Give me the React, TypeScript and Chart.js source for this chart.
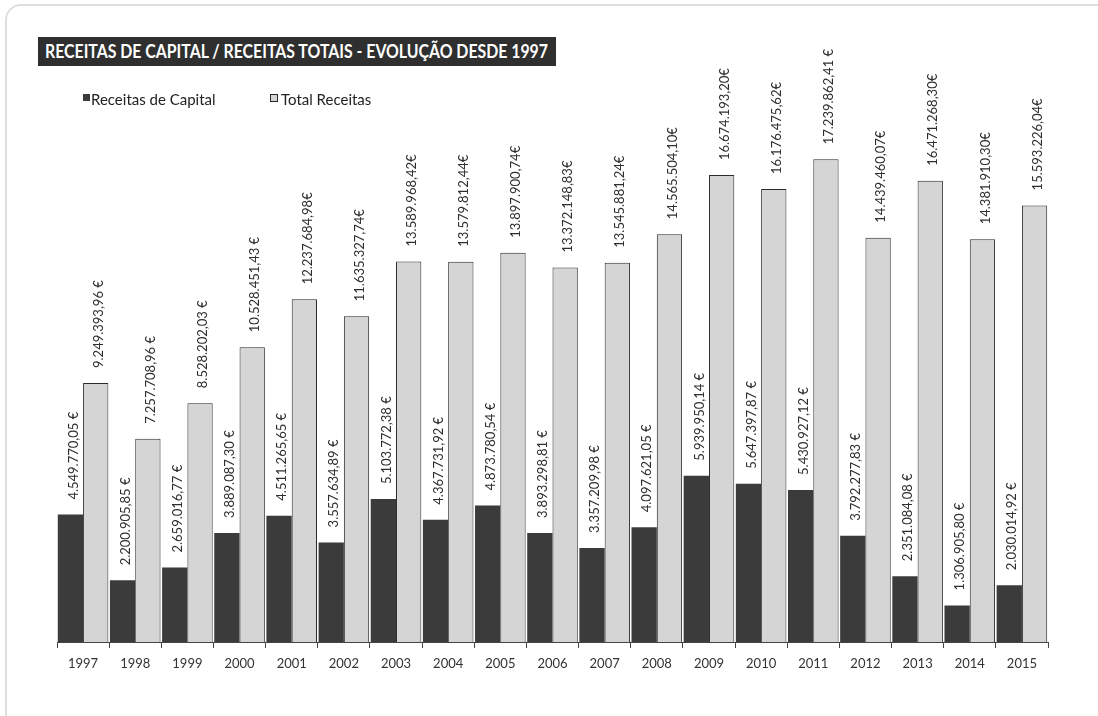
import React, { useEffect, useLayoutEffect, useRef } from "react";
import { Chart, registerables } from "chart.js";

Chart.register(...registerables);

const years = ["1997","1998","1999","2000","2001","2002","2003","2004","2005","2006","2007","2008","2009","2010","2011","2012","2013","2014","2015"];

const capital = [4549770.05, 2200905.85, 2659016.77, 3889087.30, 4511265.65, 3557634.89, 5103772.38, 4367731.92, 4873780.54, 3893298.81, 3357209.98, 4097621.05, 5939950.14, 5647397.87, 5430927.12, 3792277.83, 2351084.08, 1306905.80, 2030014.92];

const total = [9249393.96, 7257708.96, 8528202.03, 10528451.43, 12237684.98, 11635327.74, 13589968.42, 13579812.44, 13897900.74, 13372148.83, 13545881.24, 14565504.10, 16674193.20, 16176475.62, 17239862.41, 14439460.07, 16471268.30, 14381910.30, 15593226.04];

const capitalLabels = ["4.549.770,05 €","2.200.905,85 €","2.659.016,77 €","3.889.087,30 €","4.511.265,65 €","3.557.634,89 €","5.103.772,38 €","4.367.731,92 €","4.873.780,54 €","3.893.298,81 €","3.357.209,98 €","4.097.621,05 €","5.939.950,14 €","5.647.397,87 €","5.430.927,12 €","3.792.277,83 €","2.351.084,08 €","1.306.905,80 €","2.030.014,92 €"];

const totalLabels = ["9.249.393,96 €","7.257.708,96 €","8.528.202,03 €","10.528.451,43 €","12.237.684,98€","11.635.327,74€","13.589.968,42€","13.579.812,44€","13.897.900,74€","13.372.148,83€","13.545.881,24€","14.565.504,10€","16.674.193,20€","16.176.475,62€","17.239.862,41 €","14.439.460,07€","16.471.268,30€","14.381.910,30€","15.593.226,04€"];

const seriesNames = ["Receitas de Capital", "Total Receitas"];
const titleText = "RECEITAS DE CAPITAL / RECEITAS TOTAIS - EVOLUÇÃO DESDE 1997";

const DARK = "#3b3b3b";
const LIGHT = "#d5d5d5";
const EDGE = "#2a2a2a";

const labelPlugin = {
  id: "rotLabels",
  afterDatasetsDraw(chart: any) {
    const ctx = chart.ctx;
    const all = [capitalLabels, totalLabels];
    ctx.save();
    ctx.font = "13px Lato";
    ctx.fillStyle = "#2e2e2e";
    ctx.textAlign = "left";
    ctx.textBaseline = "middle";
    chart.data.datasets.forEach((_: any, di: number) => {
      const meta = chart.getDatasetMeta(di);
      meta.data.forEach((bar: any, i: number) => {
        ctx.save();
        ctx.translate(bar.x + 3, bar.y - 15);
        ctx.rotate(-Math.PI / 2);
        ctx.fillText(all[di][i], 0, 0);
        ctx.restore();
      });
    });
    ctx.restore();
  },
};

export default function App() {
  const canvasRef = useRef<HTMLCanvasElement | null>(null);
  const titleRef = useRef<HTMLSpanElement | null>(null);

  useLayoutEffect(() => {
    const s = titleRef.current;
    if (s) {
      s.style.transform = "none";
      const w = s.getBoundingClientRect().width;
      if (w > 0) s.style.transform = `scaleX(${503 / w})`;
    }
  }, []);

  useEffect(() => {
    if (!canvasRef.current) return;
    const chart = new Chart(canvasRef.current, {
      type: "bar",
      data: {
        labels: years,
        datasets: [
          {
            label: seriesNames[0],
            data: capital,
            backgroundColor: DARK,
            borderColor: DARK,
            borderWidth: 0,
            barPercentage: 1.0,
            categoryPercentage: 0.97,
          },
          {
            label: seriesNames[1],
            data: total,
            backgroundColor: LIGHT,
            borderColor: EDGE,
            borderWidth: 1,
            barPercentage: 1.0,
            categoryPercentage: 0.97,
          },
        ],
      },
      options: {
        responsive: false,
        animation: false,
        layout: { padding: { left: 57, right: 50, top: 82, bottom: 0 } },
        plugins: {
          legend: { display: false },
          title: { display: false },
          tooltip: { enabled: false },
        },
        scales: {
          y: { display: false, min: 0, max: 20000000 },
          x: {
            offset: true,
            afterFit: (scale: any) => {
              scale.height = 74;
            },
            grid: {
              display: true,
              drawOnChartArea: false,
              drawTicks: true,
              tickLength: 6,
              color: "#444",
              offset: true,
            },
            border: { display: true, color: "#444", width: 1 },
            ticks: {
              color: "#333",
              font: { family: "Lato", size: 13 },
              padding: 8,
              maxRotation: 0,
            },
          },
        },
      },
      plugins: [labelPlugin],
    });
    return () => chart.destroy();
  }, []);

  return (
    <div
      style={{
        position: "absolute",
        left: 0,
        top: 0,
        width: 1098,
        height: 716,
        overflow: "hidden",
        background: "#ffffff",
      }}
    >
      <div
        style={{
          position: "absolute",
          left: 5,
          top: 4,
          width: 1300,
          height: 900,
          border: "2px solid #dedede",
          borderRadius: 16,
        }}
      />
      <canvas ref={canvasRef} width={1098} height={716} style={{ position: "absolute", left: 0, top: 0 }} />
      <div
        style={{
          position: "absolute",
          left: 38,
          top: 37,
          width: 518,
          height: 29,
          background: "#2f2f2f",
          overflow: "hidden",
          whiteSpace: "nowrap",
        }}
      >
        <span
          ref={titleRef}
          style={{
            display: "inline-block",
            marginLeft: 7,
            color: "#ffffff",
            fontFamily: "Lato",
            fontWeight: 700,
            fontSize: 18,
            lineHeight: "29px",
            transformOrigin: "left center",
          }}
        >
          {titleText}
        </span>
      </div>
      <div style={{ position: "absolute", left: 83, top: 94, width: 7, height: 7, background: DARK }} />
      <div
        style={{
          position: "absolute",
          left: 91,
          top: 89,
          fontFamily: "Lato",
          fontSize: 15,
          lineHeight: "20px",
          color: "#222",
          whiteSpace: "nowrap",
        }}
      >
        {seriesNames[0]}
      </div>
      <div
        style={{
          position: "absolute",
          left: 270,
          top: 94,
          width: 6,
          height: 6,
          background: LIGHT,
          border: `1px solid ${EDGE}`,
        }}
      />
      <div
        style={{
          position: "absolute",
          left: 281,
          top: 89,
          fontFamily: "Lato",
          fontSize: 15,
          lineHeight: "20px",
          color: "#222",
          whiteSpace: "nowrap",
        }}
      >
        {seriesNames[1]}
      </div>
    </div>
  );
}
